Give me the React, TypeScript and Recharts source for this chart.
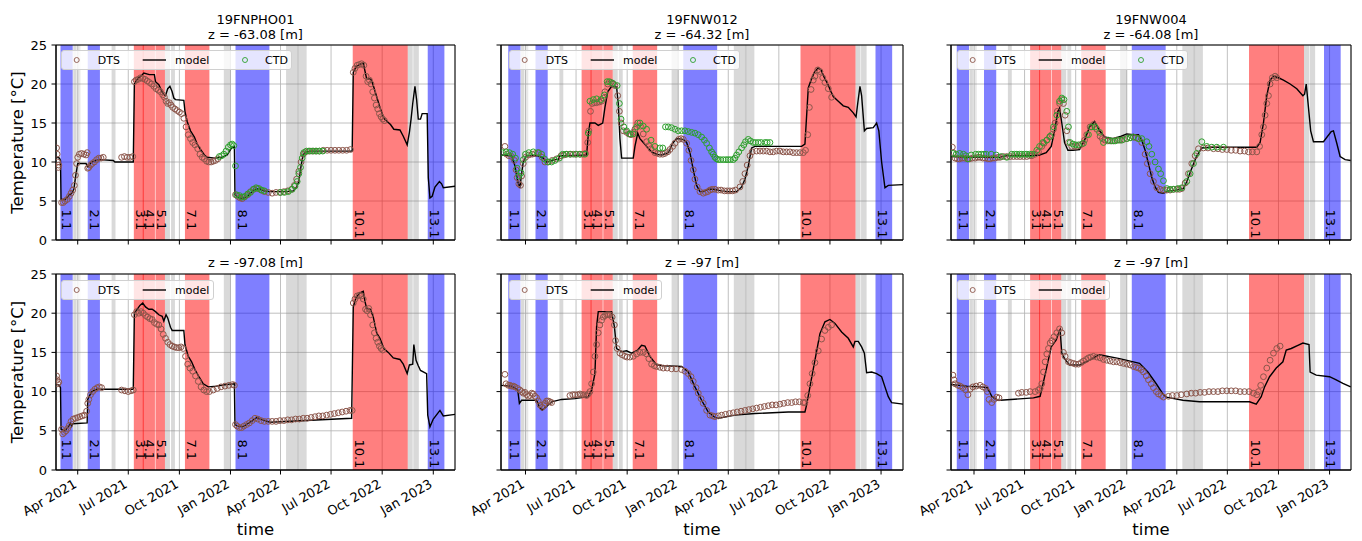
import React from 'react';
import { ComposedChart, Line, Scatter, XAxis, YAxis, CartesianGrid, ReferenceArea, ReferenceLine } from 'recharts';

const FONT = '"DejaVu Sans", "Liberation Sans", sans-serif';
const BROWN = '#8c564b';
const GREEN = '#2ca02c';

type P = [string, number];
type Span = [string, string];

const xTickDates = ['2021-04-01', '2021-07-01', '2021-10-01', '2022-01-01', '2022-04-01', '2022-07-01', '2022-10-01', '2023-01-01'];
const xTickLabels = ['Apr 2021', 'Jul 2021', 'Oct 2021', 'Jan 2022', 'Apr 2022', 'Jul 2022', 'Oct 2022', 'Jan 2023'];
const yTicks = [0, 5, 10, 15, 20, 25];

const blueBands: Span[] = [['2021-03-01', '2021-03-23'], ['2021-04-19', '2021-05-11'], ['2022-01-10', '2022-03-12'], ['2022-12-22', '2023-01-21']];
const redBands: Span[] = [['2021-07-11', '2021-07-29'], ['2021-07-27', '2021-08-18'], ['2021-08-19', '2021-09-05'], ['2021-10-11', '2021-11-24'], ['2022-08-09', '2022-11-16']];
const grayBands: Span[] = [['2021-03-24', '2021-03-30'], ['2021-06-01', '2021-06-08'], ['2021-09-05', '2021-09-14'], ['2021-09-16', '2021-09-23'], ['2021-12-20', '2022-01-01'], ['2022-04-11', '2022-05-18'], ['2022-11-16', '2022-11-25'], ['2022-11-26', '2022-12-06']];
const lightGrayBands: Span[] = [['2021-04-01', '2021-04-06'], ['2022-05-01', '2022-05-04']];
const eventDates = ['2021-03-01', '2021-04-19', '2021-07-11', '2021-07-28', '2021-08-19', '2021-10-11', '2022-01-10', '2022-08-09', '2022-12-22'];
const eventLabels = ['1.1', '2.1', '3.1', '4.1', '5.1', '7.1', '8.1', '10.1', '13.1'];

const wellNames = ['19FNPHO01', '19FNW012', '19FNW004'];
const topDepths = ['z = -63.08 [m]', 'z = -64.32 [m]', 'z = -64.08 [m]'];
const bottomDepths = ['z = -97.08 [m]', 'z = -97 [m]', 'z = -97 [m]'];

// ---------- Panel 1 (19FNPHO01) top ----------
const p1aModel: P[] = [['2021-02-20',10.7],['2021-02-27',10.5],['2021-03-01',10.2],['2021-03-02',5.2],['2021-03-09',5.2],['2021-03-15',5.6],['2021-03-21',6.0],['2021-03-25',6.5],['2021-03-29',8.5],['2021-04-01',9.8],['2021-04-16',9.8],['2021-04-19',9.4],['2021-04-26',10.0],['2021-05-05',10.2],['2021-05-11',10.3],['2021-06-04',10.2],['2021-06-07',10.0],['2021-07-10',10.0],['2021-07-12',20.0],['2021-07-17',20.6],['2021-07-25',21.1],['2021-07-29',21.4],['2021-08-08',21.2],['2021-08-17',21.2],['2021-08-19',20.3],['2021-08-25',19.9],['2021-08-29',19.3],['2021-09-02',18.7],['2021-09-06',18.5],['2021-09-10',19.4],['2021-09-14',19.7],['2021-09-18',19.0],['2021-09-21',18.2],['2021-09-24',18.0],['2021-10-09',17.9],['2021-10-11',16.5],['2021-10-15',15.2],['2021-10-21',14.0],['2021-10-28',13.2],['2021-11-02',12.3],['2021-11-08',11.6],['2021-11-15',10.9],['2021-11-20',10.6],['2021-12-04',10.5],['2021-12-16',10.6],['2021-12-26',10.9],['2022-01-03',11.8],['2022-01-08',12.0],['2022-01-09',5.8],['2022-01-14',5.5],['2022-01-23',5.3],['2022-01-31',5.6],['2022-02-06',6.0],['2022-02-12',6.4],['2022-02-22',6.6],['2022-03-02',6.3],['2022-03-13',6.2],['2022-04-12',6.2],['2022-04-24',6.3],['2022-04-30',6.8],['2022-05-04',7.5],['2022-05-08',9.5],['2022-05-12',11.0],['2022-05-17',11.3],['2022-05-27',11.4],['2022-08-08',11.4],['2022-08-10',21.5],['2022-08-15',22.2],['2022-08-21',22.5],['2022-08-28',22.7],['2022-08-30',22.0],['2022-09-03',20.7],['2022-09-11',20.6],['2022-09-15',19.8],['2022-09-21',18.4],['2022-09-27',17.0],['2022-10-04',15.6],['2022-10-10',15.2],['2022-10-16',14.8],['2022-10-22',14.2],['2022-11-02',14.1],['2022-11-08',13.3],['2022-11-15',12.2],['2022-11-19',13.8],['2022-11-22',15.5],['2022-11-25',17.5],['2022-11-29',19.7],['2022-12-02',18.0],['2022-12-05',15.5],['2022-12-09',15.5],['2022-12-12',16.2],['2022-12-21',16.2],['2022-12-23',8.0],['2022-12-26',5.4],['2022-12-30',5.6],['2023-01-04',6.8],['2023-01-12',7.5],['2023-01-16',7.2],['2023-01-19',6.7],['2023-02-10',6.9]];
const p1aDts: P[] = [['2021-02-22',11.8],['2021-02-23',11.0],['2021-02-24',10.0],['2021-02-25',9.3],['2021-02-26',9.6],['2021-03-03',4.8],['2021-03-06',4.8],['2021-03-09',5.0],['2021-03-13',5.2],['2021-03-17',5.6],['2021-03-20',6.0],['2021-03-23',6.4],['2021-03-26',7.0],['2021-03-28',8.3],['2021-03-30',9.8],['2021-04-01',10.6],['2021-04-04',11.0],['2021-04-08',11.1],['2021-04-12',11.0],['2021-04-16',10.9],['2021-04-18',11.2],['2021-04-19',9.2],['2021-04-21',9.3],['2021-04-24',9.6],['2021-04-27',9.8],['2021-05-01',10.0],['2021-05-05',10.3],['2021-05-09',10.5],['2021-05-13',10.5],['2021-05-17',10.6],['2021-06-19',10.6],['2021-06-24',10.7],['2021-06-29',10.6],['2021-07-04',10.6],['2021-07-09',10.7],['2021-07-12',20.3],['2021-07-15',20.5],['2021-07-19',20.6],['2021-07-23',20.8],['2021-07-27',20.7],['2021-07-31',20.6],['2021-08-04',20.4],['2021-08-08',20.2],['2021-08-12',20.0],['2021-08-16',19.7],['2021-08-20',19.4],['2021-08-24',19.2],['2021-08-28',19.0],['2021-09-01',18.6],['2021-09-04',18.3],['2021-09-07',17.8],['2021-09-10',17.5],['2021-09-13',17.6],['2021-09-16',17.3],['2021-09-19',17.0],['2021-09-23',16.8],['2021-09-27',16.6],['2021-10-01',16.4],['2021-10-05',16.2],['2021-10-09',15.6],['2021-10-13',14.5],['2021-10-17',13.5],['2021-10-21',13.0],['2021-10-25',12.5],['2021-10-29',12.2],['2021-11-03',11.7],['2021-11-07',11.0],['2021-11-11',10.6],['2021-11-15',10.4],['2021-11-19',10.1],['2021-11-23',10.0],['2021-11-27',10.0],['2021-12-01',10.1],['2021-12-05',10.2],['2021-12-09',10.4],['2022-01-10',5.8],['2022-01-14',5.6],['2022-01-18',5.4],['2022-01-22',5.3],['2022-01-26',5.5],['2022-02-01',5.8],['2022-02-06',6.2],['2022-02-12',6.5],['2022-02-18',6.6],['2022-02-25',6.4],['2022-03-03',6.2],['2022-03-10',6.1],['2022-03-17',6.0],['2022-03-24',6.1],['2022-03-31',6.1],['2022-04-07',6.2],['2022-04-14',6.3],['2022-04-21',6.5],['2022-04-26',7.0],['2022-04-30',7.8],['2022-05-04',8.8],['2022-05-08',10.0],['2022-05-12',11.0],['2022-05-16',11.3],['2022-05-22',11.4],['2022-05-28',11.4],['2022-06-03',11.4],['2022-06-10',11.4],['2022-06-17',11.5],['2022-06-24',11.5],['2022-07-01',11.5],['2022-07-08',11.5],['2022-07-15',11.5],['2022-07-22',11.5],['2022-07-29',11.5],['2022-08-05',11.6],['2022-08-10',21.5],['2022-08-13',22.0],['2022-08-17',22.4],['2022-08-21',22.5],['2022-08-25',22.6],['2022-08-29',22.4],['2022-09-02',21.0],['2022-09-05',20.3],['2022-09-08',20.5],['2022-09-11',20.0],['2022-09-14',19.0],['2022-09-17',18.2],['2022-09-20',17.3],['2022-09-23',16.8],['2022-09-26',16.2],['2022-09-29',15.8],['2022-10-02',15.5],['2022-10-05',15.3]];
const p1aCtd: P[] = [['2021-12-12',10.7],['2021-12-16',10.8],['2021-12-20',11.0],['2021-12-24',11.4],['2021-12-28',11.9],['2022-01-01',12.2],['2022-01-04',12.3],['2022-01-07',12.1],['2022-01-10',9.5],['2022-01-12',5.8],['2022-01-17',5.7],['2022-01-22',5.5],['2022-01-27',5.6],['2022-02-01',5.9],['2022-02-06',6.1],['2022-02-11',6.5],['2022-02-16',6.7],['2022-02-21',6.6],['2022-02-26',6.4],['2022-03-03',6.3],['2022-04-01',6.1],['2022-04-08',6.1],['2022-04-15',6.2],['2022-04-22',6.5],['2022-04-27',6.9],['2022-05-01',7.5],['2022-05-04',8.5],['2022-05-07',9.3],['2022-05-10',10.5],['2022-05-13',11.2],['2022-05-18',11.4],['2022-05-24',11.4],['2022-05-30',11.4],['2022-06-05',11.4],['2022-06-10',11.4],['2022-06-16',11.4]];

// ---------- Panel 1 bottom ----------
const p1bModel: P[] = [['2021-02-20',11.0],['2021-02-27',10.8],['2021-03-01',10.5],['2021-03-02',5.2],['2021-03-09',5.0],['2021-03-15',5.5],['2021-03-19',6.0],['2021-03-21',5.6],['2021-03-23',5.9],['2021-04-18',6.0],['2021-04-19',9.0],['2021-04-26',10.0],['2021-05-05',10.3],['2021-07-10',10.3],['2021-07-12',20.0],['2021-07-16',20.4],['2021-07-22',21.0],['2021-07-27',21.3],['2021-08-01',20.8],['2021-08-07',20.5],['2021-08-13',20.5],['2021-08-19',20.2],['2021-08-25',19.8],['2021-08-31',19.6],['2021-09-03',19.0],['2021-09-07',19.8],['2021-09-10',19.4],['2021-09-15',18.2],['2021-09-18',17.8],['2021-10-09',17.8],['2021-10-11',16.0],['2021-10-17',14.5],['2021-10-23',13.8],['2021-10-29',12.8],['2021-11-06',11.8],['2021-11-13',11.0],['2021-11-22',10.6],['2021-12-07',10.7],['2021-12-25',10.9],['2022-01-08',11.0],['2022-01-09',5.8],['2022-01-14',5.6],['2022-01-23',5.5],['2022-02-01',5.9],['2022-02-10',6.3],['2022-02-17',6.7],['2022-02-28',6.4],['2022-03-13',6.1],['2022-08-07',6.6],['2022-08-10',20.8],['2022-08-15',22.0],['2022-08-22',22.6],['2022-08-28',22.8],['2022-08-31',21.5],['2022-09-03',20.6],['2022-09-10',20.5],['2022-09-15',19.5],['2022-09-21',17.5],['2022-09-27',16.8],['2022-10-04',15.5],['2022-10-12',15.0],['2022-10-21',14.3],['2022-11-02',14.1],['2022-11-08',13.5],['2022-11-15',12.3],['2022-11-19',13.4],['2022-11-25',13.5],['2022-11-27',16.0],['2022-12-01',14.0],['2022-12-05',13.3],['2022-12-09',12.7],['2022-12-20',12.3],['2022-12-22',7.0],['2022-12-26',5.5],['2023-01-01',6.5],['2023-01-13',7.6],['2023-01-19',6.9],['2023-02-10',7.1]];
const p1bDts: P[] = [['2021-02-22',12.0],['2021-02-23',11.5],['2021-02-24',11.0],['2021-02-26',11.2],['2021-03-03',5.2],['2021-03-05',4.6],['2021-03-08',4.8],['2021-03-11',5.0],['2021-03-14',5.3],['2021-03-17',5.7],['2021-03-20',6.2],['2021-03-24',6.5],['2021-03-28',6.6],['2021-04-01',6.7],['2021-04-05',6.8],['2021-04-09',6.9],['2021-04-13',7.0],['2021-04-17',7.5],['2021-04-19',8.5],['2021-04-21',9.0],['2021-04-24',9.6],['2021-04-28',10.0],['2021-05-02',10.3],['2021-05-06',10.5],['2021-05-10',10.6],['2021-05-14',10.5],['2021-06-19',10.2],['2021-06-25',10.1],['2021-07-01',10.0],['2021-07-06',10.1],['2021-07-10',10.2],['2021-07-12',19.8],['2021-07-16',20.2],['2021-07-20',20.0],['2021-07-24',20.2],['2021-07-28',20.0],['2021-08-01',19.7],['2021-08-05',19.5],['2021-08-09',19.3],['2021-08-13',19.2],['2021-08-17',18.8],['2021-08-21',18.6],['2021-08-25',18.5],['2021-08-29',18.0],['2021-09-02',17.3],['2021-09-06',16.8],['2021-09-10',16.3],['2021-09-14',16.0],['2021-09-18',15.8],['2021-09-22',15.7],['2021-09-26',15.6],['2021-09-30',15.6],['2021-10-04',15.7],['2021-10-08',15.5],['2021-10-12',14.5],['2021-10-16',13.5],['2021-10-20',13.0],['2021-10-25',12.6],['2021-10-30',12.0],['2021-11-04',11.3],['2021-11-09',10.6],['2021-11-14',10.2],['2021-11-19',10.0],['2021-11-24',10.0],['2021-12-01',10.2],['2021-12-08',10.4],['2021-12-15',10.6],['2021-12-22',10.7],['2021-12-29',10.8],['2022-01-05',10.9],['2022-01-08',10.8],['2022-01-10',5.8],['2022-01-13',5.6],['2022-01-17',5.4],['2022-01-21',5.4],['2022-01-25',5.6],['2022-01-30',5.8],['2022-02-04',6.0],['2022-02-09',6.3],['2022-02-14',6.6],['2022-02-19',6.5],['2022-02-25',6.3],['2022-03-03',6.2],['2022-03-10',6.2],['2022-03-17',6.2],['2022-03-24',6.2],['2022-03-31',6.3],['2022-04-07',6.3],['2022-04-14',6.4],['2022-04-21',6.4],['2022-04-28',6.5],['2022-05-05',6.5],['2022-05-12',6.6],['2022-05-19',6.6],['2022-05-26',6.7],['2022-06-02',6.8],['2022-06-09',6.9],['2022-06-16',6.9],['2022-06-23',7.0],['2022-06-30',7.1],['2022-07-07',7.2],['2022-07-14',7.3],['2022-07-21',7.4],['2022-07-28',7.5],['2022-08-04',7.6],['2022-08-08',7.6],['2022-08-10',21.3],['2022-08-13',21.8],['2022-08-17',22.2],['2022-08-21',22.3],['2022-08-25',22.2],['2022-08-28',21.8],['2022-09-01',20.5],['2022-09-04',20.3],['2022-09-07',20.6],['2022-09-10',19.8],['2022-09-14',18.5],['2022-09-17',17.5],['2022-09-20',16.8],['2022-09-23',16.3],['2022-09-26',15.8],['2022-09-29',15.5],['2022-10-02',15.3]];

// ---------- Panel 2 (19FNW012) top ----------
const p2aModel: P[] = [['2021-02-15',10.9],['2021-03-07',10.8],['2021-03-13',9.5],['2021-03-18',7.5],['2021-03-22',6.7],['2021-03-25',8.5],['2021-03-28',10.0],['2021-04-03',10.8],['2021-04-24',10.8],['2021-05-03',10.5],['2021-05-09',10.0],['2021-05-15',10.1],['2021-05-24',10.3],['2021-05-30',10.3],['2021-06-02',10.8],['2021-06-11',10.8],['2021-07-20',10.9],['2021-07-23',13.5],['2021-07-26',15.0],['2021-08-04',15.0],['2021-08-10',14.7],['2021-08-18',15.0],['2021-08-22',17.0],['2021-08-27',19.0],['2021-09-03',19.7],['2021-09-12',19.6],['2021-09-15',17.5],['2021-09-18',13.0],['2021-09-21',10.5],['2021-09-30',10.5],['2021-10-12',10.5],['2021-10-15',12.0],['2021-10-20',13.7],['2021-10-24',13.0],['2021-10-30',12.5],['2021-11-05',12.0],['2021-11-14',11.3],['2021-11-23',11.0],['2021-12-02',10.9],['2021-12-14',11.2],['2021-12-23',12.5],['2021-12-29',13.0],['2022-01-10',12.9],['2022-01-16',12.5],['2022-01-22',11.2],['2022-01-28',9.0],['2022-02-03',7.0],['2022-02-09',6.2],['2022-02-15',6.2],['2022-02-24',6.5],['2022-03-05',6.5],['2022-03-20',6.3],['2022-04-01',6.2],['2022-04-16',6.2],['2022-04-25',6.8],['2022-05-01',7.8],['2022-05-07',9.5],['2022-05-13',11.8],['2022-05-19',12.0],['2022-08-11',12.0],['2022-08-17',12.3],['2022-08-23',19.5],['2022-08-28',20.5],['2022-09-03',21.5],['2022-09-10',22.1],['2022-09-15',21.8],['2022-09-21',20.8],['2022-09-27',20.0],['2022-10-03',19.0],['2022-10-07',18.4],['2022-10-16',17.8],['2022-10-25',17.2],['2022-11-03',17.0],['2022-11-12',16.3],['2022-11-17',15.8],['2022-11-20',17.5],['2022-11-24',19.7],['2022-11-27',18.5],['2022-12-02',14.0],['2022-12-06',14.3],['2022-12-18',14.4],['2022-12-24',15.0],['2022-12-28',14.0],['2023-01-02',10.0],['2023-01-08',6.7],['2023-01-14',7.0],['2023-02-10',7.1]];
const p2aDts: P[] = [['2021-02-23',12.0],['2021-02-26',11.0],['2021-03-02',10.8],['2021-03-07',10.7],['2021-03-12',10.2],['2021-03-15',9.0],['2021-03-17',8.0],['2021-03-20',7.2],['2021-03-23',7.0],['2021-03-25',8.2],['2021-03-28',9.8],['2021-04-01',10.6],['2021-04-07',10.9],['2021-04-13',11.0],['2021-04-19',11.1],['2021-04-25',11.2],['2021-05-01',10.6],['2021-05-06',10.0],['2021-05-12',10.0],['2021-05-19',10.2],['2021-05-27',10.4],['2021-06-04',10.8],['2021-06-09',10.9],['2021-06-14',11.0],['2021-06-20',11.0],['2021-06-26',11.0],['2021-07-02',11.0],['2021-07-08',11.0],['2021-07-13',11.0],['2021-07-18',11.1],['2021-07-22',12.5],['2021-07-24',14.0],['2021-07-27',16.5],['2021-07-30',17.5],['2021-08-03',17.6],['2021-08-07',17.6],['2021-08-12',17.7],['2021-08-16',17.8],['2021-08-19',18.2],['2021-08-22',19.0],['2021-08-27',20.0],['2021-09-02',20.2],['2021-09-06',20.0],['2021-09-09',19.8],['2021-09-14',18.5],['2021-09-17',16.5],['2021-09-20',15.0],['2021-09-24',14.0],['2021-09-30',13.8],['2021-10-04',13.6],['2021-10-08',13.5],['2021-10-12',13.8],['2021-10-15',14.2],['2021-10-20',15.0],['2021-10-25',14.6],['2021-10-30',13.6],['2021-11-05',12.6],['2021-11-09',12.1],['2021-11-13',11.7],['2021-11-20',11.2],['2021-11-25',11.1],['2021-11-29',11.0],['2021-12-04',11.0],['2021-12-08',11.1],['2021-12-13',11.3],['2021-12-17',11.6],['2021-12-22',12.0],['2021-12-26',12.4],['2022-01-02',12.9],['2022-01-06',13.0],['2022-01-10',12.9],['2022-01-16',12.4],['2022-01-20',11.5],['2022-01-24',10.2],['2022-01-28',9.0],['2022-01-31',7.8],['2022-02-04',6.8],['2022-02-09',6.2],['2022-02-15',6.0],['2022-02-19',6.1],['2022-02-23',6.2],['2022-02-27',6.4],['2022-03-03',6.5],['2022-03-08',6.5],['2022-03-14',6.4],['2022-03-19',6.4],['2022-03-25',6.3],['2022-03-30',6.3],['2022-04-04',6.3],['2022-04-09',6.3],['2022-04-14',6.4],['2022-04-22',6.8],['2022-04-27',7.5],['2022-05-01',8.5],['2022-05-05',9.6],['2022-05-10',10.8],['2022-05-14',11.3],['2022-05-22',11.4],['2022-05-28',11.4],['2022-06-03',11.4],['2022-06-09',11.4],['2022-06-15',11.3],['2022-06-21',11.3],['2022-06-27',11.4],['2022-07-03',11.4],['2022-07-09',11.3],['2022-07-15',11.3],['2022-07-21',11.3],['2022-07-27',11.2],['2022-08-02',11.2],['2022-08-08',11.2],['2022-08-14',11.2],['2022-08-18',11.5],['2022-08-22',13.5],['2022-08-25',17.0],['2022-08-28',19.3],['2022-09-01',20.5],['2022-09-04',21.0],['2022-09-09',21.8],['2022-09-13',21.6],['2022-09-18',20.8],['2022-09-22',20.2],['2022-09-28',19.4],['2022-10-04',18.3]];
const p2aCtd: P[] = [['2021-02-19',11.2],['2021-02-25',11.3],['2021-03-03',11.2],['2021-03-09',11.0],['2021-03-14',10.5],['2021-03-17',9.2],['2021-03-20',8.2],['2021-03-24',8.6],['2021-03-28',10.3],['2021-04-01',11.0],['2021-04-07',11.2],['2021-04-15',11.3],['2021-04-23',11.2],['2021-04-30',11.0],['2021-05-05',10.4],['2021-05-11',10.0],['2021-05-18',10.0],['2021-05-24',10.2],['2021-06-01',10.5],['2021-06-07',11.0],['2021-06-13',11.0],['2021-06-21',11.0],['2021-06-30',11.0],['2021-07-08',11.0],['2021-07-17',11.0],['2021-07-23',13.7],['2021-07-26',17.8],['2021-08-01',18.0],['2021-08-07',18.1],['2021-08-15',18.0],['2021-08-21',18.6],['2021-08-26',20.3],['2021-08-30',20.3],['2021-09-05',20.1],['2021-09-13',19.8],['2021-09-17',17.5],['2021-09-20',15.5],['2021-09-25',14.5],['2021-09-30',14.0],['2021-10-06',13.6],['2021-10-12',13.6],['2021-10-18',14.5],['2021-10-24',15.0],['2021-10-30',14.6],['2021-11-05',14.2],['2021-11-13',12.8],['2021-11-20',12.0],['2021-11-29',11.8],['2021-12-04',11.8],['2021-12-09',14.5],['2021-12-14',14.5],['2021-12-20',14.4],['2021-12-26',14.2],['2022-01-01',14.0],['2022-01-07',14.0],['2022-01-13',14.0],['2022-01-19',13.9],['2022-01-25',13.8],['2022-01-31',13.7],['2022-02-06',13.5],['2022-02-12',13.2],['2022-02-17',12.8],['2022-02-21',12.4],['2022-02-26',11.8],['2022-03-02',11.3],['2022-03-05',11.0],['2022-03-08',10.6],['2022-03-11',10.4],['2022-03-14',10.3],['2022-03-18',10.3],['2022-03-23',10.3],['2022-03-28',10.3],['2022-04-01',10.3],['2022-04-05',10.3],['2022-04-10',10.3],['2022-04-13',10.5],['2022-04-16',10.9],['2022-04-20',11.3],['2022-04-25',11.8],['2022-04-29',12.2],['2022-05-02',12.6],['2022-05-07',12.9],['2022-05-11',12.7],['2022-05-16',12.5],['2022-05-20',12.5],['2022-05-25',12.5],['2022-05-30',12.5],['2022-06-06',12.5],['2022-06-10',12.5],['2022-06-15',12.5]];

// ---------- Panel 2 bottom ----------
const p2bModel: P[] = [['2021-02-15',10.8],['2021-03-07',10.7],['2021-03-18',10.2],['2021-03-21',8.5],['2021-03-25',8.9],['2021-04-21',8.9],['2021-04-27',7.9],['2021-05-01',7.65],['2021-05-09',8.1],['2021-05-18',8.7],['2021-06-05',9.0],['2021-06-29',9.1],['2021-07-23',9.35],['2021-07-29',10.2],['2021-08-04',12.3],['2021-08-07',18.3],['2021-08-10',20.2],['2021-09-03',20.2],['2021-09-08',18.3],['2021-09-12',15.5],['2021-09-21',15.1],['2021-09-30',15.2],['2021-10-09',14.9],['2021-10-20',15.3],['2021-10-27',15.9],['2021-11-02',15.8],['2021-11-11',14.5],['2021-11-23',13.4],['2021-12-05',13.3],['2022-01-07',13.2],['2022-01-19',12.5],['2022-01-31',10.6],['2022-02-12',8.9],['2022-02-24',7.4],['2022-03-08',6.7],['2022-03-14',6.6],['2022-04-13',7.0],['2022-05-19',7.2],['2022-07-18',7.4],['2022-08-17',7.4],['2022-08-20',8.3],['2022-08-26',10.6],['2022-09-04',14.0],['2022-09-13',17.4],['2022-09-22',18.9],['2022-10-01',19.2],['2022-10-10',18.7],['2022-10-22',17.6],['2022-11-03',16.8],['2022-11-12',15.7],['2022-11-15',16.4],['2022-11-21',16.4],['2022-11-27',15.7],['2022-12-02',14.9],['2022-12-06',12.4],['2022-12-15',12.5],['2022-12-24',12.3],['2023-01-02',11.9],['2023-01-08',10.6],['2023-01-14',9.35],['2023-01-20',8.6],['2023-02-10',8.4]];
const p2bDts: P[] = [['2021-02-23',12.2],['2021-02-25',11.0],['2021-03-01',10.8],['2021-03-04',10.8],['2021-03-07',10.7],['2021-03-10',10.7],['2021-03-13',10.6],['2021-03-18',10.4],['2021-03-22',10.2],['2021-03-25',10.0],['2021-03-28',9.8],['2021-03-31',9.9],['2021-04-03',9.6],['2021-04-06',9.4],['2021-04-09',9.5],['2021-04-12',9.8],['2021-04-15',9.7],['2021-04-18',9.4],['2021-04-21',9.2],['2021-04-24',8.8],['2021-04-27',8.3],['2021-05-01',8.0],['2021-05-04',8.2],['2021-05-06',8.5],['2021-05-09',8.8],['2021-05-12',8.8],['2021-05-15',8.7],['2021-05-18',8.6],['2021-06-20',9.5],['2021-06-25',9.6],['2021-06-29',9.6],['2021-07-04',9.6],['2021-07-08',9.7],['2021-07-11',9.6],['2021-07-15',9.6],['2021-07-20',9.5],['2021-07-23',9.7],['2021-07-26',10.0],['2021-07-29',11.0],['2021-08-01',12.5],['2021-08-04',14.5],['2021-08-07',16.0],['2021-08-10',17.5],['2021-08-13',18.5],['2021-08-16',19.1],['2021-08-19',19.5],['2021-08-22',19.7],['2021-08-25',19.8],['2021-08-28',19.8],['2021-08-31',19.8],['2021-09-04',19.5],['2021-09-08',18.5],['2021-09-10',16.5],['2021-09-13',15.5],['2021-09-18',14.9],['2021-09-22',14.7],['2021-09-27',14.5],['2021-10-01',14.4],['2021-10-06',14.4],['2021-10-12',14.5],['2021-10-18',14.8],['2021-10-24',15.0],['2021-10-30',15.0],['2021-11-05',14.8],['2021-11-09',14.2],['2021-11-14',13.5],['2021-11-19',13.3],['2021-11-23',13.2],['2021-11-29',13.1],['2021-12-05',13.0],['2021-12-12',13.0],['2021-12-20',12.9],['2021-12-28',12.9],['2022-01-07',12.8],['2022-01-13',12.6],['2022-01-19',12.3],['2022-01-24',11.9],['2022-01-28',11.3],['2022-02-02',10.5],['2022-02-06',9.8],['2022-02-11',9.1],['2022-02-15',8.5],['2022-02-21',7.6],['2022-02-27',7.0],['2022-03-04',6.9],['2022-03-08',6.8],['2022-03-14',6.9],['2022-03-20',7.0],['2022-03-27',7.1],['2022-04-03',7.2],['2022-04-10',7.3],['2022-04-17',7.4],['2022-04-24',7.5],['2022-05-01',7.6],['2022-05-08',7.7],['2022-05-15',7.8],['2022-05-22',7.9],['2022-05-29',8.0],['2022-06-05',8.1],['2022-06-12',8.2],['2022-06-19',8.3],['2022-06-26',8.3],['2022-07-03',8.4],['2022-07-10',8.5],['2022-07-17',8.6],['2022-07-24',8.6],['2022-07-31',8.7],['2022-08-07',8.7],['2022-08-14',8.6],['2022-08-17',8.6],['2022-08-22',9.5],['2022-08-26',11.0],['2022-08-30',12.3],['2022-09-04',13.7],['2022-09-10',15.2],['2022-09-16',16.7],['2022-09-22',17.8],['2022-09-28',18.2],['2022-10-04',18.5]];

// ---------- Panel 3 (19FNW004) top ----------
const p3aModel: P[] = [['2021-02-18',10.7],['2021-03-19',10.6],['2021-05-17',10.6],['2021-05-29',10.8],['2021-07-10',10.8],['2021-07-28',10.9],['2021-08-09',11.2],['2021-08-18',12.0],['2021-08-24',14.0],['2021-08-30',16.5],['2021-09-02',16.9],['2021-09-06',15.0],['2021-09-11',12.5],['2021-09-17',11.5],['2021-09-26',11.5],['2021-10-08',11.6],['2021-10-17',12.8],['2021-10-26',14.5],['2021-11-04',15.2],['2021-11-13',14.0],['2021-11-22',13.2],['2021-12-07',13.0],['2021-12-22',13.3],['2022-01-01',13.6],['2022-01-13',13.5],['2022-01-22',13.5],['2022-01-28',12.8],['2022-02-03',11.5],['2022-02-09',9.8],['2022-02-15',8.0],['2022-02-21',6.8],['2022-02-27',6.1],['2022-03-08',6.0],['2022-03-17',6.3],['2022-04-01',6.4],['2022-04-13',6.6],['2022-04-19',7.5],['2022-04-28',9.2],['2022-05-07',10.8],['2022-05-16',11.8],['2022-05-31',11.9],['2022-08-23',11.9],['2022-08-29',12.5],['2022-09-04',15.0],['2022-09-10',18.5],['2022-09-16',20.5],['2022-09-22',21.0],['2022-10-01',20.8],['2022-10-10',20.5],['2022-10-22',20.0],['2022-11-03',19.4],['2022-11-14',18.5],['2022-11-17',18.7],['2022-11-20',20.0],['2022-11-24',17.0],['2022-11-28',14.0],['2022-12-03',12.6],['2022-12-21',12.6],['2023-01-04',13.9],['2023-01-08',14.0],['2023-01-14',12.4],['2023-01-20',10.7],['2023-01-29',10.3],['2023-02-08',10.2]];
const p3aDts: P[] = [['2021-02-21',11.9],['2021-02-23',11.2],['2021-02-26',10.5],['2021-03-02',10.4],['2021-03-06',10.4],['2021-03-11',10.5],['2021-03-15',10.5],['2021-03-20',10.4],['2021-03-24',10.4],['2021-03-29',10.5],['2021-04-03',10.5],['2021-04-08',10.6],['2021-04-12',10.6],['2021-04-17',10.5],['2021-04-21',10.5],['2021-04-26',10.4],['2021-04-30',10.4],['2021-05-05',10.5],['2021-05-09',10.5],['2021-05-14',10.6],['2021-05-18',10.6],['2021-05-24',10.7],['2021-05-30',10.7],['2021-06-05',10.7],['2021-06-11',10.7],['2021-06-17',10.7],['2021-06-23',10.7],['2021-06-29',10.7],['2021-07-05',10.7],['2021-07-10',10.8],['2021-07-14',10.8],['2021-07-20',11.0],['2021-07-26',11.3],['2021-08-01',12.0],['2021-08-05',12.4],['2021-08-10',12.8],['2021-08-15',13.2],['2021-08-19',13.5],['2021-08-22',14.2],['2021-08-25',15.0],['2021-08-29',16.5],['2021-09-02',17.5],['2021-09-06',18.0],['2021-09-09',17.5],['2021-09-12',16.0],['2021-09-15',14.0],['2021-09-18',12.5],['2021-09-24',12.0],['2021-09-29',12.0],['2021-10-03',12.0],['2021-10-08',12.1],['2021-10-12',12.3],['2021-10-17',12.8],['2021-10-21',13.5],['2021-10-27',14.5],['2021-11-02',14.8],['2021-11-08',14.2],['2021-11-14',13.3],['2021-11-18',13.0],['2021-11-23',12.8],['2021-11-28',12.7],['2021-12-02',12.7],['2021-12-08',12.7],['2021-12-14',12.8],['2021-12-20',12.8],['2021-12-26',12.9],['2022-01-01',13.0],['2022-01-07',13.1],['2022-01-13',13.2],['2022-01-18',13.1],['2022-01-22',13.0],['2022-01-28',12.5],['2022-02-03',11.0],['2022-02-07',9.8],['2022-02-12',8.5],['2022-02-18',7.5],['2022-02-24',6.7],['2022-03-02',6.5],['2022-03-08',6.4],['2022-03-14',6.4],['2022-03-20',6.4],['2022-03-26',6.5],['2022-04-01',6.5],['2022-04-06',6.5],['2022-04-10',6.6],['2022-04-16',7.3],['2022-04-22',8.5],['2022-04-28',9.8],['2022-05-04',10.8],['2022-05-10',11.7],['2022-05-19',11.8],['2022-05-27',11.8],['2022-06-06',11.7],['2022-06-14',11.7],['2022-06-22',11.6],['2022-06-30',11.6],['2022-07-08',11.5],['2022-07-16',11.5],['2022-07-24',11.4],['2022-08-01',11.4],['2022-08-08',11.3],['2022-08-15',11.3],['2022-08-23',11.3],['2022-08-28',12.0],['2022-09-01',13.5],['2022-09-04',14.5],['2022-09-07',16.0],['2022-09-10',17.5],['2022-09-13',18.5],['2022-09-16',20.0],['2022-09-20',20.8],['2022-09-25',21.0],['2022-09-28',20.8]];
const p3aCtd: P[] = [['2021-02-22',11.1],['2021-02-28',11.0],['2021-03-06',11.1],['2021-03-13',11.0],['2021-03-17',10.8],['2021-03-21',10.4],['2021-03-27',10.9],['2021-04-04',11.0],['2021-04-09',11.0],['2021-04-14',11.0],['2021-04-19',11.0],['2021-04-23',11.0],['2021-05-02',11.0],['2021-05-11',10.9],['2021-05-20',10.7],['2021-05-30',10.6],['2021-06-08',11.0],['2021-06-13',11.0],['2021-06-17',11.0],['2021-06-22',11.0],['2021-06-26',11.0],['2021-07-01',11.0],['2021-07-05',11.0],['2021-07-10',11.0],['2021-07-14',11.0],['2021-07-23',11.5],['2021-07-28',12.0],['2021-08-03',12.5],['2021-08-10',12.8],['2021-08-16',13.3],['2021-08-22',14.5],['2021-08-28',16.0],['2021-09-02',17.8],['2021-09-06',18.2],['2021-09-10',18.0],['2021-09-15',16.5],['2021-09-18',14.5],['2021-09-21',12.5],['2021-09-26',12.3],['2021-10-01',12.2],['2021-10-06',12.2],['2021-10-15',12.4],['2021-10-24',13.5],['2021-10-30',14.5],['2021-11-05',14.5],['2021-11-13',13.8],['2021-11-20',12.5],['2021-11-29',12.8],['2021-12-05',12.7],['2021-12-11',12.7],['2021-12-17',12.8],['2021-12-23',12.8],['2022-01-01',13.0],['2022-01-07',13.1],['2022-01-13',13.2],['2022-01-22',13.0],['2022-01-28',13.0],['2022-02-06',12.6],['2022-02-10',12.0],['2022-02-15',11.0],['2022-02-21',10.0],['2022-02-27',9.1],['2022-03-03',8.5],['2022-03-08',7.6],['2022-03-14',6.6],['2022-03-20',6.5],['2022-03-26',6.5],['2022-04-03',6.6],['2022-04-10',6.7],['2022-04-19',7.5],['2022-04-25',8.5],['2022-05-01',9.8],['2022-05-07',11.1],['2022-05-16',12.6],['2022-05-25',12.0],['2022-06-03',11.9],['2022-06-12',11.9],['2022-06-24',11.9]];

// ---------- Panel 3 bottom ----------
const p3bModel: P[] = [['2021-02-18',10.9],['2021-03-19',10.7],['2021-04-12',10.6],['2021-04-25',10.5],['2021-05-03',9.4],['2021-05-12',8.9],['2021-05-18',8.9],['2021-07-17',9.2],['2021-07-29',9.4],['2021-08-09',12.8],['2021-08-18',15.7],['2021-08-27',16.6],['2021-09-01',17.6],['2021-09-03',17.9],['2021-09-06',14.9],['2021-09-11',14.2],['2021-09-20',13.4],['2021-10-08',13.4],['2021-10-20',13.8],['2021-11-07',14.5],['2021-11-13',14.7],['2021-12-19',14.2],['2022-01-24',13.6],['2022-02-08',12.5],['2022-02-23',11.0],['2022-03-07',9.7],['2022-03-13',9.3],['2022-04-12',8.9],['2022-05-12',8.7],['2022-08-10',8.7],['2022-08-22',8.4],['2022-08-31',9.35],['2022-09-06',10.6],['2022-09-15',11.9],['2022-09-27',13.0],['2022-10-09',13.8],['2022-10-15',15.3],['2022-10-24',15.5],['2022-11-05',15.9],['2022-11-14',16.2],['2022-11-25',16.0],['2022-11-27',12.5],['2022-12-08',12.1],['2023-01-01',11.9],['2023-01-13',11.5],['2023-01-25',11.05],['2023-02-08',10.6]];
const p3bDts: P[] = [['2021-02-22',12.1],['2021-02-24',11.5],['2021-02-26',11.0],['2021-03-03',10.8],['2021-03-07',10.7],['2021-03-12',10.5],['2021-03-17',10.2],['2021-03-21',9.6],['2021-03-25',10.3],['2021-03-30',10.6],['2021-04-05',10.7],['2021-04-12',10.8],['2021-04-17',10.6],['2021-04-22',10.4],['2021-04-25',10.0],['2021-04-28',9.0],['2021-05-03',8.6],['2021-05-07',9.0],['2021-05-12',9.3],['2021-05-16',9.2],['2021-06-20',9.8],['2021-06-26',9.9],['2021-07-04',9.9],['2021-07-11',10.0],['2021-07-20',10.0],['2021-07-26',10.2],['2021-07-29',10.4],['2021-08-01',11.0],['2021-08-04',12.5],['2021-08-07',13.8],['2021-08-10',14.8],['2021-08-13',15.5],['2021-08-16',16.2],['2021-08-19',16.5],['2021-08-23',17.0],['2021-08-28',17.5],['2021-09-02',18.0],['2021-09-06',17.5],['2021-09-09',15.0],['2021-09-12',14.5],['2021-09-18',13.8],['2021-09-22',13.7],['2021-09-27',13.6],['2021-10-01',13.5],['2021-10-06',13.5],['2021-10-11',13.7],['2021-10-15',13.9],['2021-10-20',14.1],['2021-10-24',14.3],['2021-10-28',14.4],['2021-11-02',14.5],['2021-11-08',14.4],['2021-11-14',14.3],['2021-11-20',14.1],['2021-11-26',14.0],['2021-12-02',13.9],['2021-12-08',13.8],['2021-12-14',13.8],['2021-12-20',13.7],['2021-12-26',13.6],['2022-01-01',13.5],['2022-01-07',13.4],['2022-01-13',13.2],['2022-01-18',13.1],['2022-01-22',13.0],['2022-01-27',12.8],['2022-01-31',12.5],['2022-02-05',12.0],['2022-02-09',11.5],['2022-02-14',11.0],['2022-02-18',10.5],['2022-02-23',10.0],['2022-02-27',9.7],['2022-03-04',9.5],['2022-03-08',9.3],['2022-03-17',9.4],['2022-03-24',9.5],['2022-04-01',9.5],['2022-04-09',9.6],['2022-04-19',9.7],['2022-04-27',9.8],['2022-05-05',9.8],['2022-05-13',9.9],['2022-05-21',9.9],['2022-05-29',10.0],['2022-06-06',10.0],['2022-06-14',10.0],['2022-06-22',10.1],['2022-06-30',10.1],['2022-07-08',10.1],['2022-07-16',10.1],['2022-07-24',10.0],['2022-08-01',10.0],['2022-08-09',10.0],['2022-08-17',9.8],['2022-08-23',9.6],['2022-08-26',10.0],['2022-08-30',10.8],['2022-09-04',11.9],['2022-09-10',13.0],['2022-09-16',14.0],['2022-09-22',14.9],['2022-09-28',15.5],['2022-10-04',15.8]];

// ---------- helpers ----------
const ms = (d: string) => Date.parse(d.length === 10 ? d + 'T00:00:00Z' : d);
const toData = (pts: P[]) => pts.map(([d, v]) => ({ t: ms(d), v }));
const xTickValues = xTickDates.map(ms);

const COLS = [
  { left: 56, width: 399, d0: '2021-02-20T22:00:00Z', d1: '2023-02-09T02:00:00Z', legendLeft: 61 },
  { left: 501, width: 402, d0: '2021-02-15T22:00:00Z', d1: '2023-02-09T12:00:00Z', legendLeft: 509 },
  { left: 951, width: 400, d0: '2021-02-18T14:00:00Z', d1: '2023-02-08T14:00:00Z', legendLeft: 957 },
];
const ROWS = [
  { top: 45, height: 195 },
  { top: 274, height: 196 },
];
const ML = 48, MR = 6, MT = 6, MB = 75;

const EmptyTick = () => <g />;

const YTick = (p: any) => (
  <text x={p.x} y={p.y} dy={4.6} textAnchor="end" fontSize={13} fontFamily={FONT} fill="#000">
    {p.payload.value}
  </text>
);

const XTick = (p: any) => {
  const i = xTickValues.indexOf(p.payload.value);
  const y = p.y + 7.5;
  return (
    <text x={p.x} y={y} textAnchor="end" transform={`rotate(-30, ${p.x}, ${y})`} fontSize={13} fontFamily={FONT} fill="#000">
      {xTickLabels[i]}
    </text>
  );
};

const makeEventLabel = (text: string) => (props: any) => {
  const vb = props && props.viewBox;
  if (!vb) return null;
  const x = vb.x + 2;
  const y = vb.y + vb.height * (1 - 3.9 / 25);
  return (
    <text x={x} y={y} transform={`rotate(90, ${x}, ${y})`} textAnchor="start" fontSize={13} fontFamily={FONT} fill="#000">
      {text}
    </text>
  );
};

const dtsShape = (p: any) => <circle cx={p.cx} cy={p.cy} r={2.9} fill="none" stroke={BROWN} strokeWidth={1} />;
const ctdShape = (p: any) => <circle cx={p.cx} cy={p.cy} r={2.9} fill="none" stroke={GREEN} strokeWidth={1} />;

function Panel({ col, row, model, dts, ctd }: { col: number; row: number; model: P[]; dts: P[]; ctd?: P[] }) {
  const c = COLS[col];
  const r = ROWS[row];
  const domain = [ms(c.d0), ms(c.d1)];
  return (
    <div style={{ position: 'absolute', left: c.left - ML, top: r.top - MT }}>
      <ComposedChart width={c.width + ML + MR} height={r.height + MT + MB} margin={{ top: MT, right: MR, bottom: 0, left: 0 }}>
        <CartesianGrid stroke="#b0b0b0" strokeWidth={0.8} />
        {lightGrayBands.map(([a, b], i) => (
          <ReferenceArea key={'lg' + i} x1={ms(a)} x2={ms(b)} fill="#808080" fillOpacity={0.18} stroke="none" />
        ))}
        {grayBands.map(([a, b], i) => (
          <ReferenceArea key={'g' + i} x1={ms(a)} x2={ms(b)} fill="#808080" fillOpacity={0.3} stroke="none" />
        ))}
        {blueBands.map(([a, b], i) => (
          <ReferenceArea key={'b' + i} x1={ms(a)} x2={ms(b)} fill="#0000ff" fillOpacity={0.5} stroke="none" />
        ))}
        {redBands.map(([a, b], i) => (
          <ReferenceArea key={'r' + i} x1={ms(a)} x2={ms(b)} fill="#ff0000" fillOpacity={0.5} stroke="none" />
        ))}
        <XAxis
          type="number"
          dataKey="t"
          domain={domain}
          allowDataOverflow
          ticks={xTickValues}
          interval={0}
          height={MB}
          tickSize={4.5}
          tickMargin={4.5}
          stroke="#000"
          tick={row === 1 ? XTick : EmptyTick}
        />
        <YAxis
          type="number"
          dataKey="v"
          domain={[0, 25]}
          allowDataOverflow
          ticks={yTicks}
          interval={0}
          width={ML}
          tickSize={4.5}
          tickMargin={4.5}
          stroke="#000"
          tick={col === 0 ? YTick : EmptyTick}
        />
        {eventDates.map((d, i) => (
          <ReferenceLine key={'e' + i} x={ms(d)} stroke="none" label={makeEventLabel(eventLabels[i])} />
        ))}
        <Scatter data={toData(dts)} dataKey="v" shape={dtsShape} isAnimationActive={false} />
        <Line data={toData(model)} dataKey="v" type="linear" stroke="#000" strokeWidth={1.4} dot={false} activeDot={false} isAnimationActive={false} />
        {ctd ? <Scatter data={toData(ctd)} dataKey="v" shape={ctdShape} isAnimationActive={false} /> : null}
        <ReferenceArea x1={domain[0]} x2={domain[1]} y1={0} y2={25} fill="none" stroke="#000" strokeWidth={1} />
      </ComposedChart>
    </div>
  );
}

function LegendBox({ left, top, withCtd }: { left: number; top: number; withCtd: boolean }) {
  const w = withCtd ? 231 : 153;
  return (
    <div
      style={{
        position: 'absolute', left, top, width: w, height: 20, boxSizing: 'border-box',
        background: 'rgba(255,255,255,0.8)', border: '1px solid #d0d0d0', borderRadius: 3,
      }}
    >
      <svg width={w} height={20} style={{ position: 'absolute', left: -1, top: -1 }}>
        <circle cx={15.7} cy={10} r={2.5} fill="none" stroke={BROWN} strokeWidth={0.9} />
        <text x={36.7} y={14} fontSize={11} fontFamily={FONT} fill="#000">DTS</text>
        <line x1={81.7} x2={105} y1={10} y2={10} stroke="#000" strokeWidth={1.4} />
        <text x={114} y={14} fontSize={11} fontFamily={FONT} fill="#000">model</text>
        {withCtd ? <circle cx={184} cy={10} r={2.5} fill="none" stroke={GREEN} strokeWidth={0.9} /> : null}
        {withCtd ? <text x={204} y={14} fontSize={11} fontFamily={FONT} fill="#000">CTD</text> : null}
      </svg>
    </div>
  );
}

export default function App() {
  const centers = COLS.map((c) => c.left + c.width / 2);
  return (
    <div style={{ position: 'absolute', left: 0, top: 0, width: 1362, height: 541, background: '#fff', overflow: 'hidden', fontFamily: FONT }}>
      <Panel col={0} row={0} model={p1aModel} dts={p1aDts} ctd={p1aCtd} />
      <Panel col={1} row={0} model={p2aModel} dts={p2aDts} ctd={p2aCtd} />
      <Panel col={2} row={0} model={p3aModel} dts={p3aDts} ctd={p3aCtd} />
      <Panel col={0} row={1} model={p1bModel} dts={p1bDts} />
      <Panel col={1} row={1} model={p2bModel} dts={p2bDts} />
      <Panel col={2} row={1} model={p3bModel} dts={p3bDts} />
      {COLS.map((c, i) => (
        <LegendBox key={'lt' + i} left={c.legendLeft} top={50} withCtd={true} />
      ))}
      {COLS.map((c, i) => (
        <LegendBox key={'lb' + i} left={c.legendLeft} top={280} withCtd={false} />
      ))}
      <svg width={1362} height={541} style={{ position: 'absolute', left: 0, top: 0, pointerEvents: 'none' }}>
        {centers.map((x, i) => (
          <g key={'t' + i}>
            <text x={x} y={23.5} textAnchor="middle" fontSize={13} fontFamily={FONT} fill="#000">{wellNames[i]}</text>
            <text x={x} y={39} textAnchor="middle" fontSize={13} fontFamily={FONT} fill="#000">{topDepths[i]}</text>
            <text x={x} y={267} textAnchor="middle" fontSize={13} fontFamily={FONT} fill="#000">{bottomDepths[i]}</text>
            <text x={x} y={535} textAnchor="middle" fontSize={16.5} fontFamily={FONT} fill="#000">time</text>
          </g>
        ))}
        <text x={23} y={142.5} textAnchor="middle" transform="rotate(-90, 23, 142.5)" fontSize={16.5} fontFamily={FONT} fill="#000">Temperature [°C]</text>
        <text x={23} y={372} textAnchor="middle" transform="rotate(-90, 23, 372)" fontSize={16.5} fontFamily={FONT} fill="#000">Temperature [°C]</text>
      </svg>
    </div>
  );
}
